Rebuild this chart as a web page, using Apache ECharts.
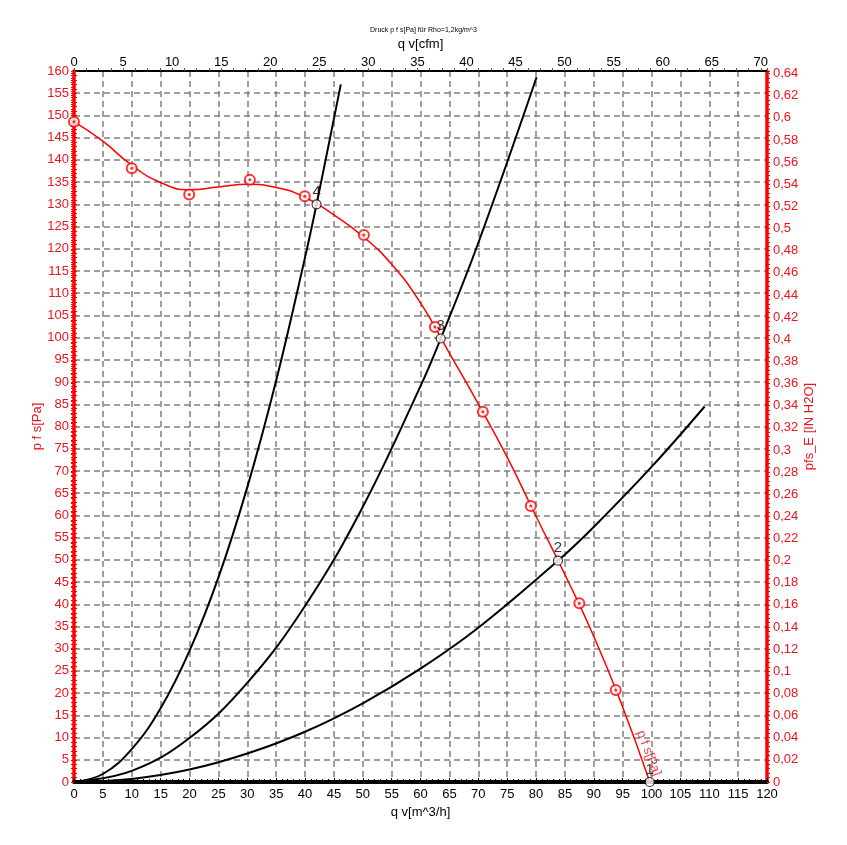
<!DOCTYPE html>
<html>
<head>
<meta charset="utf-8">
<script src="https://cdn.jsdelivr.net/npm/echarts@6/dist/echarts.min.js"></script>
<style>
html,body{margin:0;padding:0;background:#fff;}
#chart{width:847px;height:845px;}
</style>
</head>
<body>
<div id="chart"></div>
<script>
// ---- data ----
// fan curve p_fs [Pa] vs q_v [m^3/h]
const fanQ = [0, 5, 10, 15, 20, 25, 30, 35, 40, 45, 50, 55, 60, 65, 70, 75, 80, 85, 90, 95, 99.7];
const fanP = [148.6, 144.2, 138.8, 134.9, 133.3, 133.9, 134.5, 133.8, 131.6, 127.6, 122.8, 116.5, 107.8, 96.5, 85.1, 73.1, 59.8, 46.7, 32.8, 16.9, 0];
// measured points (red circles)
const measQ = [0, 10, 19.95, 30.45, 39.97, 50.2, 62.5, 70.8, 79.1, 87.5, 93.8];
const measP = [148.6, 138.1, 132.2, 135.5, 131.8, 123.1, 102.4, 83.3, 62.1, 40.2, 20.7];
// operating points
const opQ = [99.7, 83.8, 63.5, 42];
const opP = [0, 49.8, 99.8, 130];
const opLabels = ['1', '2', '3', '4'];
// system curves (black)
const sys4Q = [0, 5, 10, 15, 20, 25, 30, 35, 40, 42, 46.2];
const sys4P = [0, 1.8, 7.4, 16.6, 29.5, 46, 66.3, 90.3, 118, 130, 157];
const sys3Q = [0, 10, 20, 30, 40, 50, 60, 63.5, 70, 80.1];
const sys3P = [0, 2.5, 9.9, 22.3, 39.6, 61.9, 89.1, 99.8, 121.3, 158.6];
const sys2Q = [0, 10, 20, 30, 40, 50, 60, 70, 83.8, 90, 100, 109.2];
const sys2P = [0, 0.7, 2.8, 6.4, 11.3, 17.7, 25.5, 34.7, 49.8, 57.4, 70.9, 84.5];
// curve label position
const fanLabelQ = [99.5];
const fanLabelP = [6.5];
// axis ranges / units
const qMax = 120;          // m^3/h
const pMax = 160;          // Pa
const M3H_PER_CFM = 1.69901;
const PA_PER_INH2O = 249.089;

const pairs = (xs, ys) => xs.map((x, i) => [x, ys[i]]);
const FONT = "'Liberation Sans', Arial, sans-serif";
const RED = '#ff0000';
const RED_TXT = '#e8141f';
const GRID = { type: [6, 4], color: '#808080', width: 1.5 };

function numFmt(step, dec) {
  return function (v) {
    const r = Math.round(v / step) * step;
    if (Math.abs(v - r) > 1e-6) return '';
    return (Math.round(r * Math.pow(10, dec)) / Math.pow(10, dec)).toString().replace('.', ',');
  };
}

const chart = echarts.init(document.getElementById('chart'), null, { renderer: 'canvas' });
chart.setOption({
  backgroundColor: '#ffffff',
  animation: false,
  title: {
    text: 'Druck p f s[Pa] für Rho=1,2kg/m^3',
    left: 'center', top: 22,
    textStyle: { fontFamily: FONT, fontSize: 7, fontWeight: 'normal', color: '#000' }
  },
  grid: { left: 74, right: 80, top: 71, bottom: 63 },
  xAxis: [
    {
      type: 'value', position: 'bottom', min: 0, max: qMax, interval: 5,
      name: 'q v[m^3/h]', nameLocation: 'middle', nameGap: 23,
      nameTextStyle: { fontFamily: FONT, fontSize: 13, color: '#000' },
      axisLine: { show: true, onZero: false, lineStyle: { color: '#000', width: 4 } },
      axisTick: { show: true, inside: true, length: 4, lineStyle: { color: '#000', width: 1 } },
      minorTick: { show: true, splitNumber: 5, length: 3, lineStyle: { color: '#000', width: 1 } },
      axisLabel: { fontFamily: FONT, fontSize: 13, color: '#000', margin: 6 },
      splitLine: { show: true, lineStyle: GRID }
    },
    {
      type: 'value', position: 'top', min: 0, max: qMax / M3H_PER_CFM, interval: 5,
      name: 'q v[cfm]', nameLocation: 'middle', nameGap: 19,
      nameTextStyle: { fontFamily: FONT, fontSize: 13, color: '#000' },
      axisLine: { show: true, onZero: false, lineStyle: { color: '#000', width: 2 } },
      axisTick: { show: true, inside: false, length: 3, lineStyle: { color: '#555', width: 1 } },
      minorTick: { show: true, splitNumber: 4, length: 3, lineStyle: { color: '#555', width: 1 } },
      axisLabel: { fontFamily: FONT, fontSize: 13, color: '#000', margin: 2, formatter: numFmt(5, 0) },
      splitLine: { show: false }
    }
  ],
  yAxis: [
    {
      type: 'value', position: 'left', min: 0, max: pMax, interval: 5,
      name: 'p f s[Pa]', nameLocation: 'middle', nameRotate: 90, nameGap: 30, nameMoveOverlap: false,
      nameTextStyle: { fontFamily: FONT, fontSize: 13, color: RED_TXT },
      axisLine: { show: true, onZero: false, lineStyle: { color: RED, width: 3.5 } },
      axisTick: { show: true, inside: false, length: 3, lineStyle: { color: RED, width: 1 } },
      minorTick: { show: true, splitNumber: 5, length: 3, lineStyle: { color: RED, width: 1 } },
      axisLabel: { fontFamily: FONT, fontSize: 13, color: RED_TXT, margin: 5 },
      splitLine: { show: true, lineStyle: GRID }
    },
    {
      type: 'value', position: 'right', min: 0, max: pMax / PA_PER_INH2O, interval: 0.02,
      name: 'pfs_E [IN H2O]', nameLocation: 'middle', nameRotate: 90, nameGap: 36, nameMoveOverlap: false,
      nameTextStyle: { fontFamily: FONT, fontSize: 13, color: RED_TXT },
      axisLine: { show: true, onZero: false, lineStyle: { color: RED, width: 3.5 } },
      axisTick: { show: true, inside: false, length: 3, lineStyle: { color: RED, width: 1 } },
      minorTick: { show: true, splitNumber: 5, length: 3, lineStyle: { color: RED, width: 1 } },
      axisLabel: { fontFamily: FONT, fontSize: 13, color: RED_TXT, margin: 6, formatter: numFmt(0.02, 2) },
      splitLine: { show: false }
    },
    {
      type: 'value', position: 'left', min: 0, max: pMax, interval: 5,
      axisLine: { show: false },
      axisTick: { show: true, inside: true, length: 3, lineStyle: { color: RED, width: 1 } },
      minorTick: { show: true, splitNumber: 5, length: 3, lineStyle: { color: RED, width: 1 } },
      axisLabel: { show: false }, splitLine: { show: false }
    },
    {
      type: 'value', position: 'right', min: 0, max: pMax / PA_PER_INH2O, interval: 0.02,
      axisLine: { show: false },
      axisTick: { show: true, inside: true, length: 3, lineStyle: { color: RED, width: 1 } },
      minorTick: { show: true, splitNumber: 5, length: 3, lineStyle: { color: RED, width: 1 } },
      axisLabel: { show: false }, splitLine: { show: false }
    }
  ],
  series: [
    {
      type: 'line', name: 'sys4', data: pairs(sys4Q, sys4P), smooth: 0.4, showSymbol: false,
      lineStyle: { color: '#000', width: 2 }, z: 3
    },
    {
      type: 'line', name: 'sys3', data: pairs(sys3Q, sys3P), smooth: 0.4, showSymbol: false,
      lineStyle: { color: '#000', width: 2 }, z: 3
    },
    {
      type: 'line', name: 'sys2', data: pairs(sys2Q, sys2P), smooth: 0.4, showSymbol: false,
      lineStyle: { color: '#000', width: 2 }, z: 3
    },
    {
      type: 'line', name: 'fan', data: pairs(fanQ, fanP), smooth: 0.5, showSymbol: false,
      lineStyle: { color: RED, width: 1.5 }, z: 4
    },
    {
      type: 'scatter', name: 'meas', data: pairs(measQ, measP), symbol: 'emptyCircle', symbolSize: 10,
      itemStyle: { color: RED, borderColor: RED, borderWidth: 1.5 }, z: 5
    },
    {
      type: 'scatter', name: 'measDot', data: pairs(measQ, measP), symbol: 'circle', symbolSize: 3,
      itemStyle: { color: RED }, z: 6
    },
    {
      type: 'scatter', name: 'op', data: pairs(opQ, opP).map((d, i) => ({ value: d, name: opLabels[i] })),
      symbol: 'circle', symbolSize: 9,
      itemStyle: { color: '#ffffff', borderColor: '#000', borderWidth: 1.2 },
      label: { show: true, position: 'top', distance: 0, formatter: '{b}', fontFamily: FONT, fontSize: 15, color: '#000' },
      z: 7
    },
    {
      type: 'scatter', name: 'fanLabel', data: pairs(fanLabelQ, fanLabelP), symbolSize: 0,
      label: { show: true, position: 'inside', rotate: -69, formatter: 'p f s[Pa]', fontFamily: FONT, fontSize: 13, color: RED_TXT },
      z: 7
    }
  ]
});
</script>
</body>
</html>
